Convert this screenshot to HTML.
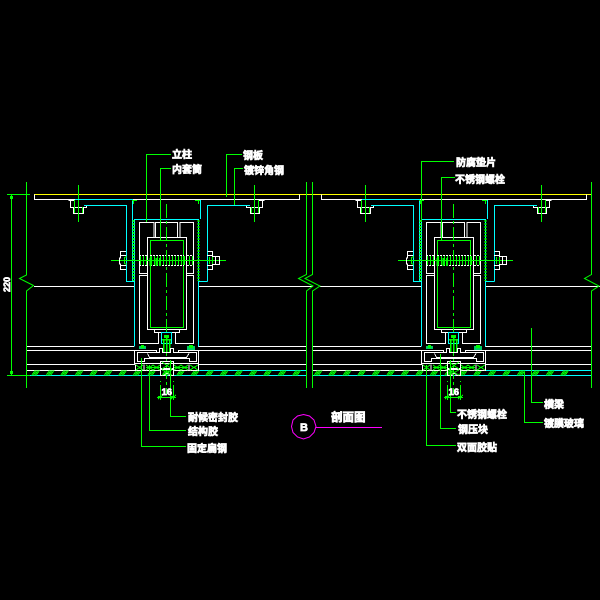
<!DOCTYPE html>
<html>
<head>
<meta charset="utf-8">
<style>
html,body{margin:0;padding:0;background:#000;width:600px;height:600px;overflow:hidden}
svg{display:block}
text{font-family:"Liberation Sans","Noto Sans CJK SC",sans-serif;font-weight:bold;fill:#fff;stroke:#fff;stroke-width:.7px}
</style>
</head>
<body>
<svg width="600" height="600" viewBox="0 0 600 600" xmlns="http://www.w3.org/2000/svg">
<defs>
<path id="h" d="M0 375.500L3.500 370.500M1.500 375.500L5 370.500M3 375.500L6.500 370.500M4.500 375.500L8 370.500" stroke="#0f0" fill="none"/>
<g id="h6">
<use href="#h"/><use href="#h" x="14.500"/><use href="#h" x="29"/><use href="#h" x="43.500"/><use href="#h" x="58"/><use href="#h" x="72.500"/>
</g>
<g id="nutL" fill="none" stroke="#fff">
<path d="M68.500 200.500H75M70.500 200.500V207.500H73.500V213.500H83.500V207.500H86.500V205.500"/>
<path d="M73.500 207.500H84"/>
</g>
<g id="nutR" fill="none" stroke="#fff">
<path d="M264.500 200.500H259M262.500 200.500V207.500H259.500V213.500H250.500V207.500H246.500V205.500"/>
<path d="M250.500 207.500H260"/>
</g>
<g id="m" fill="none" shape-rendering="crispEdges">
<use href="#nutL"/>
<use href="#nutR"/>
<path d="M78.500 185V222M254.500 185V222" stroke="#0f0"/>
<path d="M74.500 200V213M82.500 207V213M251.500 207V213M258.500 200V213" stroke="#0f0"/>
<path d="M132 199.500H200" stroke="#fff"/>
<path d="M75 199.500H132.500V281M84 205.500H126.500V281.500H134" stroke="#0ff"/>
<path d="M200.500 200V219M207.500 281.500V205.500H250M198 281.500H207.500" stroke="#0ff"/>
<path d="M134.500 346.500V219.500H198.500V346.500" stroke="#0ff"/>
<path d="M147.500 273.500H139.500V222.500H154V237M155.500 237V222.500H177.500V237M180 237V222.500H193.500V273.500H186.500" stroke="#fff"/>
<path d="M147.500 275.500H139.500V343.500H158.500V332.500H154.500V330M186.500 275.500H193.500V343.500H175.500V332.500H179.500V330" stroke="#fff"/>
<path d="M154.500 332.500H179.500" stroke="#fff"/>
<rect x="147.500" y="237.500" width="39" height="92" stroke="#fff"/>
<rect x="150.500" y="240.500" width="33" height="87" stroke="#0f0"/>
<path d="M133.500 220V281M198.500 220V281" stroke="#0f0" stroke-width="2" stroke-dasharray="2 1"/>
<path d="M132 200.500H137M133.500 200V204M195 200.500H200M198.500 200V204" stroke="#0f0"/>
<path d="M111 260.500H226" stroke="#0f0"/>
<path d="M139 255.500H147M150 255.500H184M187 255.500H193M139 265.500H147M150 265.500H184M187 265.500H193" stroke="#fff" stroke-dasharray="2 1"/>
<path d="M140.500 256V265M143.500 256V265M146.500 256V265M151.500 256V265M154.500 256V265M157.500 256V265M160.500 256V265M163.500 256V265M166.500 256V265M169.500 256V265M172.500 256V265M175.500 256V265M178.500 256V265M181.500 256V265M184.500 256V265M189.500 256V265M192.500 256V265" stroke="#0f0"/>
<path d="M150.500 258V266M156.500 258V266M160 258V266" stroke="#0f0" stroke-width="2"/>
<path d="M126 251.500H120.500V258H119.500V264H120.500V269.500H126M120.500 255.500H126M120.500 265.500H126" stroke="#fff"/>
<path d="M207.500 251.500H212.500V269.500H207.500M207 255.500H213M207 265.500H213M213 256.500H219.500V264.500H213M215.500 256.500V264.500" stroke="#fff"/>
<path d="M124.500 257V264M125 257H127M125 264H127M209.500 257V264M212.500 257V264" stroke="#0f0"/>
<path d="M166.500 204V395" stroke="#0f0" stroke-dasharray="14 3 3 3"/>
<rect x="161.500" y="332.500" width="10" height="11" stroke="#0ff"/>
<path d="M163.500 339V352M166.500 338V352M169.500 339V352M162 339.500H171" stroke="#0f0" stroke-width="1.500"/>
<rect x="164" y="335" width="5" height="3" fill="#0f0" stroke="none"/>
<path d="M134.500 350.500H156.500V352.500H159.500V348.500H162.500V352.500H170.500V348.500H173.500V352.500H178.500V350.500H198.500V363.500H134.500Z" stroke="#fff"/>
<path d="M156.500 352.500H137.500V361.500H144.500V358.500H189.500V361.500H196.500V352.500H178.500" stroke="#fff"/>
<path d="M147.500 353.500L149.500 357.500H186.500L189 353.500" stroke="#fff"/>
<rect x="139" y="346" width="7" height="3" fill="#0c6" stroke="none"/>
<rect x="141" y="345" width="3" height="3" fill="#0f0" stroke="none"/>
<rect x="187" y="346" width="8" height="4" fill="#0c6" stroke="none"/>
<rect x="189" y="345" width="4" height="3" fill="#0f0" stroke="none"/>
<path d="M135.500 364.500V370.500H160M173.500 370.500H198.500V364.500M144 364.500V370.500M189 364.500V370.500" stroke="#fff"/>
<path d="M136 365L143 370M136 370L143 365M146 365L153 370M146 370L153 365M153 365L160 370M153 370L160 365M174 365L181 370M174 370L181 365M181 365L188 370M181 370L188 365M190 365L198 370M190 370L198 365" stroke="#0f0"/>
<path d="M146 367.500H160M174 367.500H188" stroke="#0f0"/>
<rect x="160.500" y="361.500" width="13" height="8" stroke="#fff"/>
<path d="M160.500 369.500V375.500H165V373.500H169V375.500H173.500V369.500M160.500 368.500H173.500" stroke="#fff"/>
<path d="M162 362L172 369M172 362L162 369M162 370L172 375M172 370L162 375" stroke="#0f0"/>
<path d="M160.500 385V400M173.500 385V400M157 397.500H176M158 399L163 395M171 399L176 395" stroke="#0f0"/>
<rect x="158" y="396" width="4" height="2" fill="#0f0" stroke="none"/>
<rect x="171" y="396" width="4" height="2" fill="#0f0" stroke="none"/>
<path d="M160.500 381V382M173.500 381V382" stroke="#0f0"/>
</g>
</defs>

<g fill="none" shape-rendering="crispEdges">
<path d="M34 194.500H592" stroke="#ff0"/>
<path d="M7 194.500H30" stroke="#0f0"/>
<path d="M34.500 194.500V199.500H75M299.500 194.500V199.500H259M321.500 194.500V199.500H362M586.500 194.500V199.500H546M200 199.500H259M487 199.500H546" stroke="#fff"/>

<path d="M34 286.500H134M198 286.500H313M320 286.500H421M485 286.500H600" stroke="#fff"/>
<path d="M26 346.500H134M198 346.500H306M312 346.500H421M485 346.500H591" stroke="#fff"/>
<path d="M26 350.500H134M198 350.500H306M312 350.500H421M485 350.500H591" stroke="#fff"/>
<path d="M26 364.500H135M198 364.500H306M312 364.500H422M485 364.500H591" stroke="#fff"/>
<path d="M26 370.500H135M312 370.500H422" stroke="#fff"/>
<path d="M198 370.500H306M485 370.500H591M26 375.500H306M312 375.500H591" stroke="#0ff"/>

<use href="#h6" x="31.500"/><use href="#h6" x="118.500"/><use href="#h6" x="205.500"/><use href="#h" x="292.500"/>
<use href="#h6" x="314"/><use href="#h6" x="401"/><use href="#h6" x="488"/>

<use href="#m"/>
<use href="#m" transform="translate(287 0)"/>

<path d="M26.500 182V275L19.500 278.500L33.500 285.500L26.500 291V388" stroke="#0f0" shape-rendering="auto"/>
<path d="M306.500 182V274.500L298.500 278.500L313 286L306.500 291V388" stroke="#0f0" shape-rendering="auto"/>
<path d="M312.500 182V274.500L305 278.500L320 286L312.500 291V388" stroke="#0f0" shape-rendering="auto"/>
<path d="M591.500 182V274.500L584.500 278.500L599 286L591.500 291V388" stroke="#0f0" shape-rendering="auto"/>

<path d="M11.500 194V375M7 375.500H30" stroke="#0f0"/>
<rect x="10" y="196" width="3" height="3" fill="#0f0"/>
<rect x="10" y="371" width="3" height="3" fill="#0f0"/>

<g stroke="#0f0">
<path d="M146.500 222V154.500H171"/>
<path d="M160.500 240V168.500H171"/>
<path d="M226.500 197V154.500H242"/>
<path d="M234.500 205V168.500H243"/>
<path d="M421.500 222V161.500H454"/>
<path d="M441.500 240V177.500H455"/>
<path d="M170.500 360V416.500H186"/>
<path d="M149.500 365V430.500H186"/>
<path d="M141.500 358V446.500H186"/>
<path d="M450.500 360V412.500H456"/>
<path d="M440.500 354V428.500H456"/>
<path d="M426.500 365V445.500H456"/>
<path d="M531.500 328V402.500H543"/>
<path d="M524.500 372V422.500H543"/>
</g>

<polygon points="303.500,414.500 309.500,416 314,420 316,426.500 314,432.500 309.500,437 303.500,439 297.500,437 293,432.500 291.500,426.500 293,420 297.500,416" stroke="#f0f" shape-rendering="auto"/>
<path d="M316 427.500H382" stroke="#f0f"/>
</g>

<text x="172" y="158" font-size="10">立柱</text>
<text x="172" y="173" font-size="10">内套筒</text>
<text x="243" y="159" font-size="10">钢板</text>
<text x="244" y="174" font-size="10">镀锌角钢</text>
<text x="456" y="166" font-size="10">防腐垫片</text>
<text x="455" y="183" font-size="10">不锈钢螺栓</text>
<text x="188" y="421" font-size="10">耐候密封胶</text>
<text x="188" y="435" font-size="10">结构胶</text>
<text x="187" y="452" font-size="10">固定扁钢</text>
<text x="457" y="418" font-size="10">不锈钢螺栓</text>
<text x="458" y="433" font-size="10">钢压块</text>
<text x="457" y="451" font-size="10">双面胶贴</text>
<text x="544" y="408" font-size="10">横梁</text>
<text x="544" y="427" font-size="10">镀膜玻璃</text>
<text x="331" y="421" font-size="11.500">剖面图</text>
<text x="300" y="431" font-size="11">B</text>
<text x="161.500" y="395" font-size="9.500">16</text>
<text transform="translate(10 292) rotate(-90)" font-size="9">220</text>
<text x="448.500" y="395" font-size="9.500">16</text>
</svg>
</body>
</html>
